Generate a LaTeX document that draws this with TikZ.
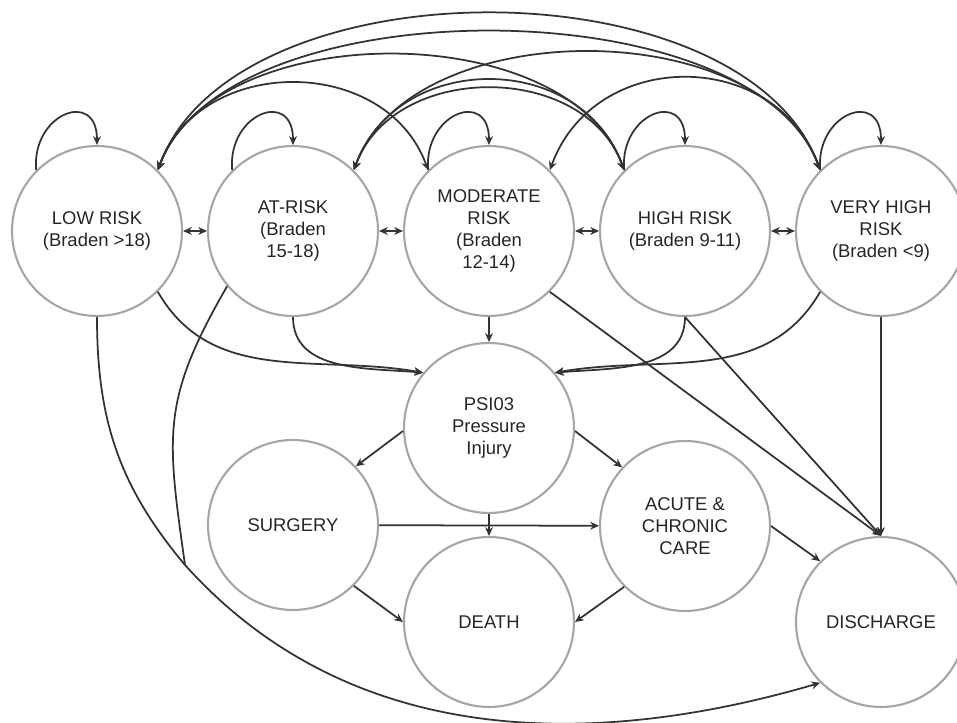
\documentclass[tikz,border=0pt]{standalone}
\usepackage{fontspec}
\setmainfont{Liberation Sans}
\usetikzlibrary{arrows.meta}
\tikzset{
  riskstate/.style={circle, draw=gray!70, line width=1.2pt, minimum size=3.4cm,
    inner sep=0pt, align=center, text=black!85,
    font=\fontsize{10.5}{12.6}\selectfont},
  flow/.style={draw=black!80, line width=1pt, -{Stealth[length=5pt,width=4.5pt]}},
  both/.style={draw=black!80, line width=1pt,
    {Stealth[length=5pt,width=4.5pt]}-{Stealth[length=5pt,width=4.5pt]}}
}
\begin{document}
\begin{tikzpicture}[x=0.02cm,y=0.02cm]
      \useasboundingbox (0,0) rectangle (957,723);
      \path
        (97,492) node[riskstate] (low){LOW RISK\\(Braden >18)}
        (293,492) node[riskstate] (at){AT-RISK\\(Braden\\15-18)}
        (489,492) node[riskstate] (mod){MODERATE\\RISK\\(Braden\\12-14)}
        (685,492) node[riskstate] (high){HIGH RISK\\(Braden 9-11)}
        (881,492) node[riskstate] (vhigh){VERY HIGH\\RISK\\(Braden <9)}
        (489,295) node[riskstate] (psi){PSI03\\Pressure\\Injury}
        (293,198) node[riskstate] (surg){SURGERY}
        (685,197) node[riskstate] (acute){ACUTE \&\\CHRONIC\\CARE}
        (489,101) node[riskstate] (death){DEATH}
        (881,101) node[riskstate] (disch){DISCHARGE};
      \coordinate (merge) at (185,158);
      % staying in the same state
      \begin{scope}[flow]
        \draw (low.135) to[out=95,in=90,looseness=2.2] (low.90);
        \draw (at.135) to[out=95,in=90,looseness=2.2] (at.90);
        \draw (mod.135) to[out=95,in=90,looseness=2.2] (mod.90);
        \draw (high.135) to[out=95,in=90,looseness=2.2] (high.90);
        \draw (vhigh.135) to[out=95,in=90,looseness=2.2] (vhigh.90);
      \end{scope}
      % moving between risk levels
      \begin{scope}[both]
        \draw (low) to (at);
        \draw (at) to (mod);
        \draw (mod) to (high);
        \draw (high) to (vhigh);
        \draw (low.45) to[out=70,in=110,looseness=1.17] (mod.135);
        \draw (low.45) to[out=70,in=110,looseness=0.9] (high.135);
        \draw (low.45) to[out=70,in=110,looseness=0.86] (vhigh.135);
        \draw (low.45) to[out=70,in=110,looseness=0.76] (vhigh.135);
        \draw (at.45) to[out=70,in=110,looseness=1.21] (high.135);
        \draw (at.45) to[out=70,in=110,looseness=1.1] (high.135);
        \draw (at.45) to[out=70,in=110,looseness=0.92] (vhigh.135);
        \draw (mod.45) to[out=70,in=110,looseness=1.24] (vhigh.135);
      \end{scope}
      % outcomes
      \begin{scope}[flow]
        \draw (low.-45) to[out=-60,in=170] (psi.140);
        \draw (at.south) to[out=-90,in=175] (psi.140);
        \draw (mod) to (psi);
        \draw (high.south) to[out=-90,in=5] (psi.40);
        \draw (vhigh.-135) to[out=-120,in=10] (psi.40);
        \draw (mod.-45) to (disch.north);
        \draw (high.south) to (disch.north);
        \draw (vhigh) to (disch);
        \draw (psi.182) to (surg.43);
        \draw (psi.-2) to (acute.137);
        \draw (psi) to (death);
        \draw (surg) to (acute);
        \draw (surg.-45) to (death.west);
        \draw (acute.-135) to (death.east);
        \draw (acute.east) to (disch.135);
        \draw (merge) .. controls (345,-20) and (580,-30) .. (disch.-135);
      \end{scope}
      \draw[flow,-] (low.south) to[out=-90,in=130] (merge);
      \draw[flow,-] (at.-140) to[out=-120,in=98,looseness=1.2] (merge);
    \end{tikzpicture}
\end{document}
